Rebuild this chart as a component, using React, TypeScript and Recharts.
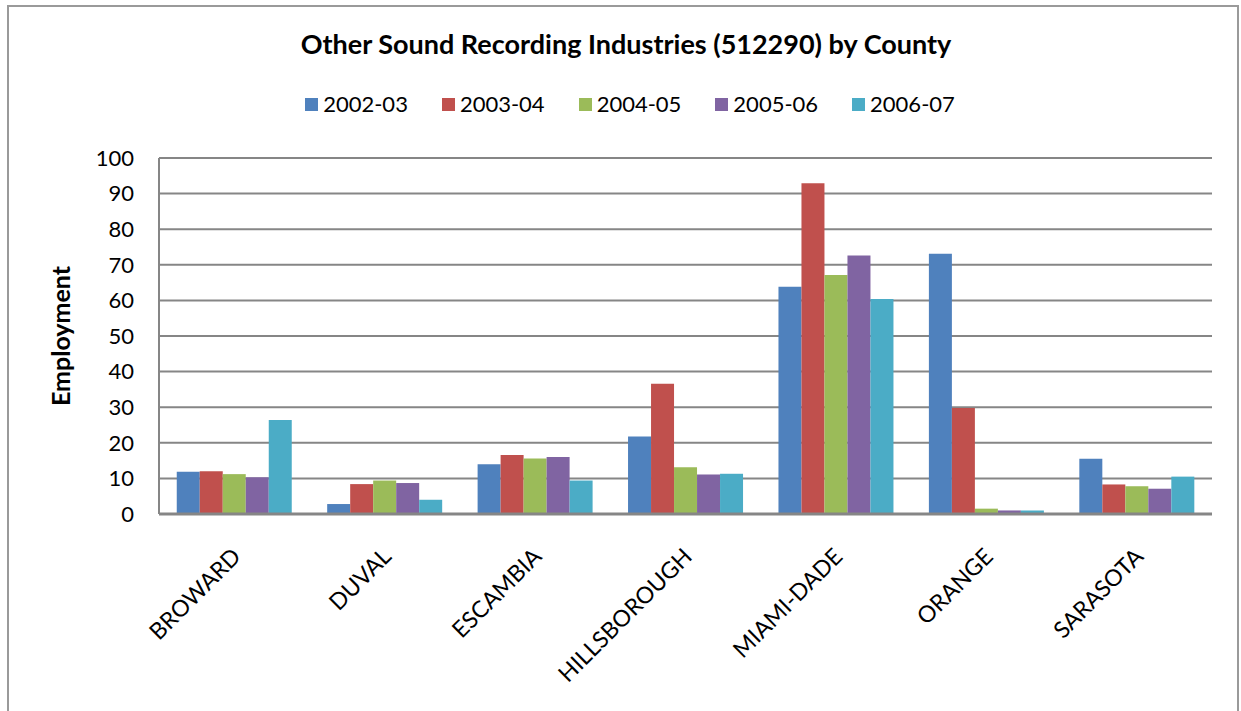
import React from 'react';
import { BarChart, Bar, XAxis, YAxis, CartesianGrid } from 'recharts';

const counties = ['BROWARD', 'DUVAL', 'ESCAMBIA', 'HILLSBOROUGH', 'MIAMI-DADE', 'ORANGE', 'SARASOTA'];
const seriesNames = ['2002-03', '2003-04', '2004-05', '2005-06', '2006-07'];
const s2002 = [11.9, 2.8, 14.0, 21.8, 63.8, 73.1, 15.5];
const s2003 = [12.0, 8.4, 16.6, 36.6, 92.9, 29.8, 8.3];
const s2004 = [11.2, 9.4, 15.6, 13.1, 67.1, 1.5, 7.8];
const s2005 = [10.3, 8.7, 16.0, 11.1, 72.6, 1.0, 7.1];
const s2006 = [26.4, 4.0, 9.4, 11.3, 60.4, 1.0, 10.5];
const yTicks = [0, 10, 20, 30, 40, 50, 60, 70, 80, 90, 100];
const colors = ['#4F81BD', '#C0504D', '#9BBB59', '#8064A2', '#4BACC6'];

const seriesValues = [s2002, s2003, s2004, s2005, s2006];
const data = counties.map((c, i) => {
  const row: Record<string, string | number> = { county: c };
  seriesNames.forEach((s, k) => {
    row[s] = seriesValues[k][i];
  });
  return row;
});

const FONT = 'Lato, "Open Sans", sans-serif';

const CategoryTick = (props: any) => {
  const { x, y, payload } = props;
  return (
    <g transform={`translate(${x + 8},${y + 36})`}>
      <text
        x={0}
        y={0}
        textAnchor="end"
        transform="rotate(-45)"
        fontSize={23}
        fontFamily={FONT}
        fill="#000"
      >
        {payload.value}
      </text>
    </g>
  );
};

export default function App() {
  return (
    <div
      style={{
        position: 'fixed',
        left: 0,
        top: 0,
        width: 1241,
        height: 711,
        overflow: 'hidden',
        background: '#fff',
        fontFamily: FONT,
      }}
    >
      <div
        style={{
          position: 'absolute',
          left: 7,
          top: 5,
          width: 1232,
          height: 760,
          border: '2px solid #9a9a9a',
          boxSizing: 'border-box',
        }}
      />
      <div
        style={{
          position: 'absolute',
          left: 0,
          top: 27,
          width: 1252,
          textAlign: 'center',
          fontSize: 27,
          fontWeight: 700,
          color: '#000',
          lineHeight: '34px',
        }}
      >
        Other Sound Recording Industries (512290) by County
      </div>
      <div
        style={{
          position: 'absolute',
          left: 0,
          top: 90,
          width: 1260,
          display: 'flex',
          justifyContent: 'center',
          fontSize: 22,
          lineHeight: '28px',
          color: '#000',
        }}
      >
        {seriesNames.map((s, k) => (
          <div key={s} style={{ display: 'flex', alignItems: 'center', marginRight: k < seriesNames.length - 1 ? 34 : 0 }}>
            <span style={{ width: 13, height: 13, background: colors[k], display: 'inline-block', marginRight: 5 }} />
            <span>{s}</span>
          </div>
        ))}
      </div>
      <div
        style={{
          position: 'absolute',
          left: 60,
          top: 336,
          transform: 'translate(-50%, -50%) rotate(-90deg)',
          fontSize: 25,
          fontWeight: 700,
          color: '#000',
          whiteSpace: 'nowrap',
        }}
      >
        Employment
      </div>
      <div style={{ position: 'absolute', left: 0, top: 0 }}>
        <BarChart
          width={1241}
          height={711}
          data={data}
          margin={{ top: 158, right: 29, bottom: 0, left: 0 }}
          barCategoryGap="11.8%"
          barGap={0}
        >
          <CartesianGrid vertical={false} stroke="#868686" strokeWidth={2} />
          <XAxis
            dataKey="county"
            height={197}
            interval={0}
            tick={<CategoryTick />}
            tickLine={false}
            axisLine={{ stroke: '#868686', strokeWidth: 3 }}
          />
          <YAxis
            width={159}
            domain={[0, 100]}
            ticks={yTicks}
            interval={0}
            tickLine={false}
            tickSize={8}
            tickMargin={17}
            axisLine={{ stroke: '#868686', strokeWidth: 2 }}
            tick={{ fontSize: 22, fontFamily: FONT, fill: '#000' }}
          />
          {seriesNames.map((s, k) => (
            <Bar key={s} dataKey={s} fill={colors[k]} isAnimationActive={false} />
          ))}
        </BarChart>
      </div>
    </div>
  );
}
